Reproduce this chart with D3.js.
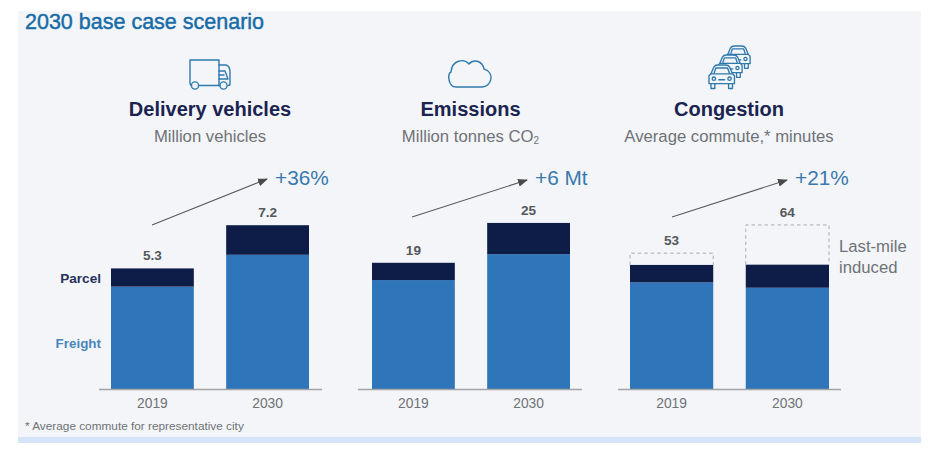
<!DOCTYPE html>
<html><head><meta charset="utf-8">
<script src="https://cdn.jsdelivr.net/npm/d3@7/dist/d3.min.js"></script>
<style>
html,body{margin:0;padding:0;background:#fff}
svg{display:block}
text{font-family:"Liberation Sans",Arial,sans-serif}
</style></head><body><svg id="c" width="942" height="456"></svg>
<script>
const years = ["2019","2030"];
const panelTitles = ["Delivery vehicles","Emissions","Congestion"];
const panelSubtitles = ["Million vehicles","Million tonnes CO","Average commute,* minutes"];
const growthLabels = ["+36%","+6 Mt","+21%"];
const freightValues = [[4.5,5.9],[16.4,20.3],[41.6,39.5]];
const parcelValues = [[0.8,1.3],[2.6,4.7],[6.8,9.0]];
const totalValues = [[5.3,7.2],[19,25],[53,64]];
const totalLabels = [["5.3","7.2"],["19","25"],["53","64"]];
const yMaxima = [8,27.4,71];
const barSpans = [[111,309],[372,570],[630,829]];
const axisSpans = [[99,322],[358,582],[618,841]];

const C = {navy:"#0e1c48",blue:"#2e75ba",title:"#176ba6",head:"#1b2450",grey:"#6f7276",icon:"#2f79ad",growth:"#3a79ad"};
const svg = d3.select("#c");
svg.append("defs").append("marker").attr("id","ah").attr("viewBox","0 0 10 8").attr("refX",9).attr("refY",4)
  .attr("markerWidth",10).attr("markerHeight",8).attr("markerUnits","userSpaceOnUse").attr("orient","auto")
  .append("path").attr("d","M0,0L10,4L0,8Z").attr("fill","#4a4a4a");

svg.append("rect").attr("x",18).attr("y",11).attr("width",903).attr("height",432).attr("fill","#f3f5f9");
svg.append("rect").attr("x",18).attr("y",437).attr("width",903).attr("height",6).attr("fill","#d6e4f8");
svg.append("text").attr("x",25).attr("y",28.5).attr("font-size",21.5).attr("fill",C.title)
  .attr("stroke",C.title).attr("stroke-width",0.45).text("2030 base case scenario");

const baseY = 389, plotH = 182, arrowPts = [[152,225,267,179],[412,217,527,180],[672,217,787,180]];

barSpans.forEach((span,i)=>{
  const g = svg.append("g");
  const x = d3.scaleBand().domain(years).range(span).paddingInner(0.281).paddingOuter(0);
  const y = d3.scaleLinear().domain([0,yMaxima[i]]).range([baseY, baseY-plotH]);
  const cx = x.bandwidth()/2;
  const cols = years.map((yr,j)=>({yr,f:freightValues[i][j],p:parcelValues[i][j],t:totalValues[i][j],l:totalLabels[i][j]}));

  g.selectAll(".f").data(cols).join("rect").attr("x",d=>x(d.yr)).attr("width",x.bandwidth())
    .attr("y",d=>y(d.f)).attr("height",d=>y(0)-y(d.f)).attr("fill",C.blue);
  g.selectAll(".p").data(cols).join("rect").attr("x",d=>x(d.yr)).attr("width",x.bandwidth())
    .attr("y",d=>y(d.f+d.p)).attr("height",d=>y(d.f)-y(d.f+d.p)).attr("fill",C.navy);

  if(i===2){
    g.selectAll(".d").data(cols).join("path")
      .attr("d",d=>{const a=x(d.yr),b=a+x.bandwidth(),t=y(d.t),s=y(d.f+d.p);return `M${a},${s}V${t}H${b}V${s}`;})
      .attr("fill","none").attr("stroke","#a9abae").attr("stroke-width",1).attr("stroke-dasharray","3.5 3");
  }

  const ax = g.append("g").attr("transform",`translate(0,${baseY})`).call(d3.axisBottom(x).tickSize(0).tickPadding(9));
  ax.select(".domain").attr("stroke","#a3a4a6").attr("stroke-width",1.5).attr("d",`M${axisSpans[i][0]},0.5H${axisSpans[i][1]}`);
  ax.selectAll("text").attr("font-size",13.8).attr("fill",C.grey).attr("font-family",'"Liberation Sans",Arial,sans-serif');

  g.selectAll(".t").data(cols).join("text").attr("x",d=>x(d.yr)+cx).attr("y",d=>y(d.t)-8)
    .attr("text-anchor","middle").attr("font-size",13.6).attr("font-weight",700).attr("fill","#55585c").text(d=>d.l);

  const [x1,y1,x2,y2] = arrowPts[i];
  g.append("line").attr("x1",x1).attr("y1",y1).attr("x2",x2).attr("y2",y2).attr("stroke","#5a5a5a").attr("stroke-width",1.1).attr("marker-end","url(#ah)");
  g.append("text").attr("x",x2+8).attr("y",184.5).attr("font-size",20.8).attr("fill",C.growth).text(growthLabels[i]);
});

const headingX = [210,470.5,729];
panelTitles.forEach((t,i)=>{
  svg.append("text").attr("x",headingX[i]).attr("y",116).attr("text-anchor","middle").attr("font-size",20).attr("font-weight",700).attr("fill",C.head).text(t);
  const s = svg.append("text").attr("x",headingX[i]).attr("y",142).attr("text-anchor","middle").attr("font-size",16.7).attr("fill",C.grey).text(panelSubtitles[i]);
  if(i===1) s.append("tspan").attr("font-size",10).attr("dy",2).text("2");
});

svg.append("text").attr("x",101).attr("y",282.5).attr("text-anchor","end").attr("font-size",13.6).attr("font-weight",700).attr("fill","#27315a").text("Parcel");
svg.append("text").attr("x",101).attr("y",348).attr("text-anchor","end").attr("font-size",13.4).attr("font-weight",700).attr("fill","#4a86bb").text("Freight");
svg.append("text").attr("x",839).attr("y",252).attr("font-size",16.7).attr("fill",C.grey).text("Last-mile");
svg.append("text").attr("x",839).attr("y",273).attr("font-size",16.7).attr("fill",C.grey).text("induced");
svg.append("text").attr("x",25).attr("y",430).attr("font-size",11.8).attr("fill",C.grey).text("* Average commute for representative city");

const ic = svg.append("g").attr("fill","none").attr("stroke",C.icon).attr("stroke-width",1.4).attr("stroke-linejoin","round").attr("stroke-linecap","round");
const tr = ic.append("g");
tr.append("path").attr("d","M191.5,85.5 Q190,85 190,83 V60 H219 V85.5 H199");
tr.append("path").attr("d","M219,65 H226 Q230,66 230,72 V84 Q230,85.5 228,85.5");
tr.append("path").attr("d","M219,71 H225 L228,79 H219 M219,75 H224 M219,85.5 H220");
tr.append("circle").attr("cx",195).attr("cy",85.5).attr("r",3.6);
tr.append("circle").attr("cx",223.5).attr("cy",85.5).attr("r",3.6);
ic.append("path").attr("d","M456,87 H482 C492,87 495,72 484,69 C482,60 473,59 469,64 C464,58 452,60 451,72 C447,73 448,87 456,87 Z");
function car(g,ox,oy,s){
  const k = g.append("g").attr("transform",`translate(${ox},${oy}) scale(${s})`);
  k.append("path").attr("fill","#f3f5f9").attr("d","M3,9 L6,2 Q7,0 10,0 H18 Q21,0 22,2 L25,9 L27,11 V19 H1 V11 Z");
  k.append("path").attr("d","M3,9 H25 M6,9 L8,3 H20 L22,9 M3,19 V24 H7 V19 M21,19 V24 H25 V19 M11,15 H17");
  k.append("circle").attr("cx",6).attr("cy",14).attr("r",1.7);
  k.append("circle").attr("cx",22).attr("cy",14).attr("r",1.7);
}
car(ic,725,46,0.93);car(ic,717,55,0.93);car(ic,708,65,0.98);
</script></body></html>
